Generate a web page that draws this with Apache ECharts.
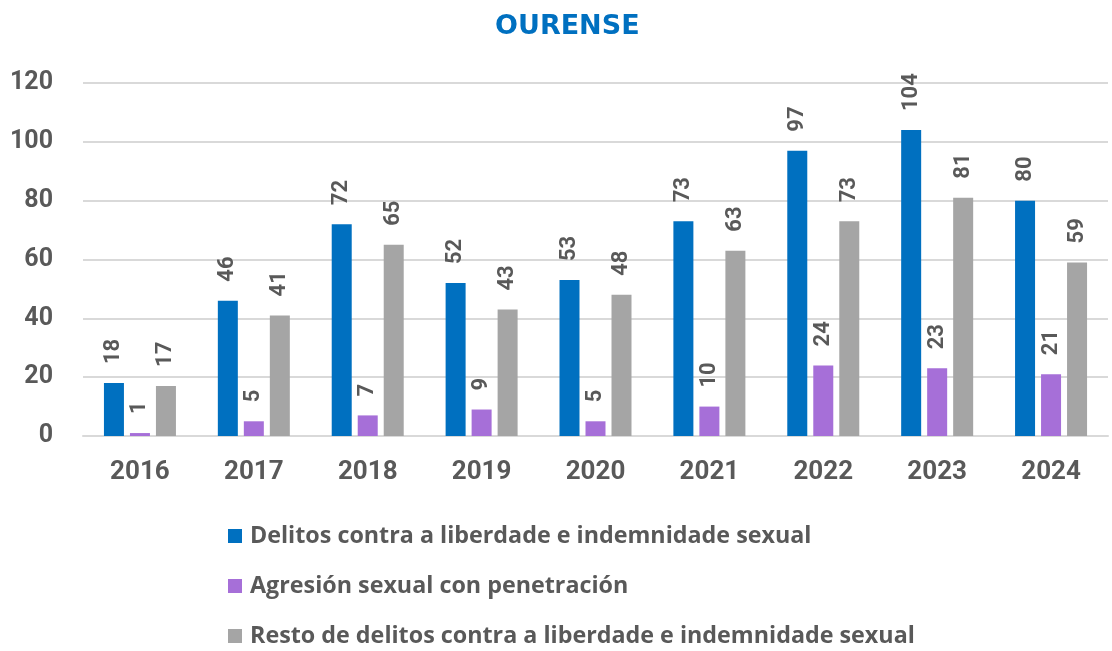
<!DOCTYPE html>
<html>
<head>
<meta charset="utf-8">
<script src="https://cdn.jsdelivr.net/npm/echarts@6/dist/echarts.min.js"></script>
<style>
  html, body { margin: 0; padding: 0; background: #fff; }
  #chart { width: 1112px; height: 651px; }
</style>
</head>
<body>
<div id="chart"></div>
<script>
const years = ['2016', '2017', '2018', '2019', '2020', '2021', '2022', '2023', '2024']
const seriesNames = [
  'Delitos contra a liberdade e indemnidade sexual',
  'Agresión sexual con penetración',
  'Resto de delitos contra a liberdade e indemnidade sexual'
]
const delitos = [18, 46, 72, 52, 53, 73, 97, 104, 80]
const agresion = [1, 5, 7, 9, 5, 10, 24, 23, 21]
const resto = [17, 41, 65, 43, 48, 63, 73, 81, 59]
const colors = ['#0070C0', '#A66FD8', '#A5A5A5']

const font = 'Roboto, "Open Sans", sans-serif'
const textGrey = '#595959'

const chart = echarts.init(document.getElementById('chart'))

const barLabel = {
  show: true,
  position: 'top',
  rotate: 90,
  align: 'left',
  verticalAlign: 'middle',
  distance: 19,
  color: textGrey,
  fontFamily: font,
  fontWeight: 'bold',
  fontSize: 22,
}

chart.setOption({
  animation: false,
  title: {
    text: 'OURENSE',
    left: 490,
    top: 8,
    textStyle: { color: '#0070C0', fontFamily: '"DejaVu Sans", sans-serif', fontWeight: 'bold', fontSize: 27 },
  },
  legend: {
    orient: 'vertical',
    left: 223,
    top: 519,
    height: 140,
    itemWidth: 14,
    itemHeight: 14,
    itemGap: 26,
    icon: 'rect',
    textStyle: {
      color: textGrey, fontFamily: '"Open Sans", sans-serif', fontWeight: 'bold',
      fontSize: 23.3, lineHeight: 24, padding: [0, 0, 0, 3],
    },
    data: seriesNames,
  },
  grid: { left: 83, right: 4, top: 83, bottom: 215 },
  xAxis: {
    type: 'category',
    data: years,
    axisLine: { lineStyle: { color: '#D9D9D9', width: 2 } },
    axisTick: { show: false },
    axisLabel: { color: textGrey, fontFamily: font, fontWeight: 'bold', fontSize: 26, margin: 23 },
  },
  yAxis: {
    type: 'value',
    min: 0,
    max: 120,
    interval: 20,
    axisLine: { show: false },
    axisTick: { show: false },
    splitLine: { lineStyle: { color: '#D9D9D9', width: 2 } },
    axisLabel: { color: textGrey, fontFamily: font, fontWeight: 'bold', fontSize: 25, margin: 30 },
  },
  series: [
    { name: seriesNames[0], type: 'bar', data: delitos, barWidth: 20, barGap: '30%', itemStyle: { color: colors[0] }, label: barLabel },
    { name: seriesNames[1], type: 'bar', data: agresion, barWidth: 20, barGap: '30%', itemStyle: { color: colors[1] }, label: barLabel },
    { name: seriesNames[2], type: 'bar', data: resto, barWidth: 20, barGap: '30%', itemStyle: { color: colors[2] }, label: barLabel },
  ],
})
</script>
</body>
</html>
